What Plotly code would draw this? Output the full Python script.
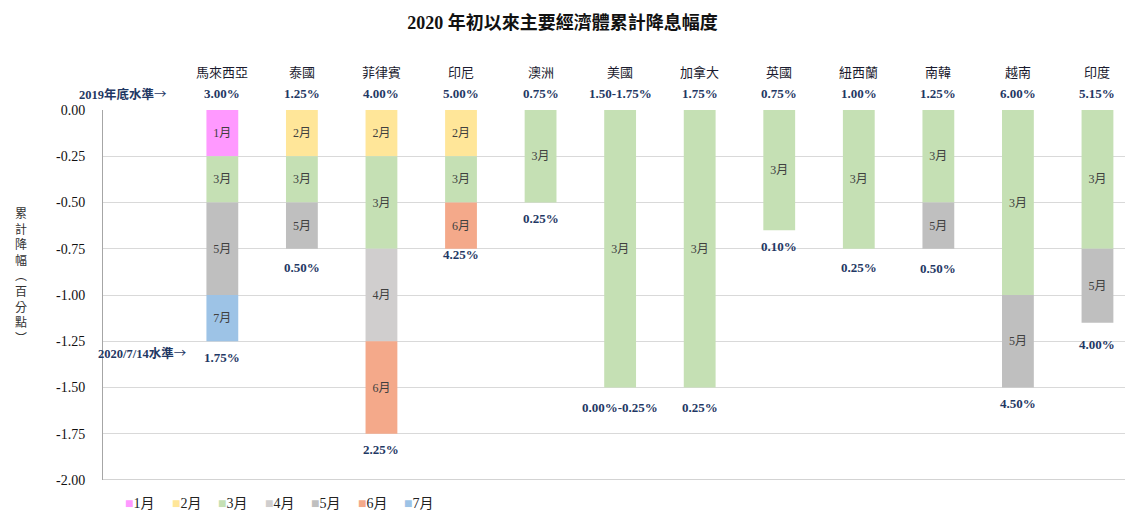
import plotly.graph_objects as go

countries = ["馬來西亞", "泰國", "菲律賓", "印尼", "澳洲", "美國", "加拿大", "英國", "紐西蘭", "南韓", "越南", "印度"]
start_levels = ["3.00%", "1.25%", "4.00%", "5.00%", "0.75%", "1.50-1.75%", "1.75%", "0.75%", "1.00%", "1.25%", "6.00%", "5.15%"]
end_levels = ["1.75%", "0.50%", "2.25%", "4.25%", "0.25%", "0.00%-0.25%", "0.25%", "0.10%", "0.25%", "0.50%", "4.50%", "4.00%"]
months = ["1月", "2月", "3月", "4月", "5月", "6月", "7月"]
# cuts (percentage points) per month, per country
cuts = {
    "1月": [-0.25, 0, 0, 0, 0, 0, 0, 0, 0, 0, 0, 0],
    "2月": [0, -0.25, -0.25, -0.25, 0, 0, 0, 0, 0, 0, 0, 0],
    "3月": [-0.25, -0.25, -0.50, -0.25, -0.50, -1.50, -1.50, -0.65, -0.75, -0.50, -1.00, -0.75],
    "4月": [0, 0, -0.50, 0, 0, 0, 0, 0, 0, 0, 0, 0],
    "5月": [-0.50, -0.25, 0, 0, 0, 0, 0, 0, 0, -0.25, -0.50, -0.40],
    "6月": [0, 0, -0.50, -0.25, 0, 0, 0, 0, 0, 0, 0, 0],
    "7月": [-0.25, 0, 0, 0, 0, 0, 0, 0, 0, 0, 0, 0],
}
month_colors = ["#FF99FF", "#FFE699", "#C5E0B4", "#D0CECE", "#BFBFBF", "#F4A98A", "#9DC3E6"]
y_ticks = [0, -0.25, -0.5, -0.75, -1.0, -1.25, -1.5, -1.75, -2.0]

SERIF = "Liberation Serif, Noto Sans CJK TC"
CJK = "Noto Sans CJK TC"
NAVY = "#1F3864"

xs = list(range(1, len(countries) + 1))
fig = go.Figure()
for m, col in zip(months, month_colors):
    vals = cuts[m]
    fig.add_trace(go.Bar(
        x=xs, y=[v if v != 0 else None for v in vals], name=m,
        marker=dict(color=col, line=dict(width=0)),
        text=[m if v != 0 else "" for v in vals],
        textposition="inside", insidetextanchor="middle",
        textfont=dict(family=SERIF, size=12, color="#404040"),
        width=0.4, hoverinfo="skip", showlegend=False,
    ))

totals = [sum(cuts[m][i] for m in months) for i in range(len(countries))]
shift = {3: -6, 5: -20, 6: -20, 11: -22, 1: -19, 8: -19, 9: -20}

ann = []
plot_l, plot_w = 103, 1022
def px_x(p):
    return (p - plot_l) / plot_w
def px_y(p):
    return (480 - p) / 370

for i, c in enumerate(countries):
    ann.append(dict(x=xs[i], y=px_y(72), xref="x", yref="paper", yanchor="middle", text=c, showarrow=False,
                    font=dict(family=CJK, size=13, color="#1a1a2e")))
    ann.append(dict(x=xs[i], y=px_y(93), xref="x", yref="paper", yanchor="middle",
                    text="<b>%s</b>" % start_levels[i], showarrow=False,
                    font=dict(family=SERIF, size=13, color=NAVY)))
    ann.append(dict(x=xs[i], y=totals[i], xref="x", yref="y", yanchor="middle",
                    text="<b>%s</b>" % end_levels[i], showarrow=False,
                    yshift=shift.get(i, -16), font=dict(family=SERIF, size=13, color=NAVY)))

arrow = '<span style="font-family:Noto Sans CJK TC">→</span>'
ann.append(dict(x=px_x(169), y=px_y(93), xref="paper", yref="paper", xanchor="right", yanchor="middle",
                text="<b>2019年底水準</b>" + arrow,
                showarrow=False, font=dict(family=SERIF, size=12.5, color=NAVY)))
ann.append(dict(x=px_x(189), y=px_y(352), xref="paper", yref="paper", xanchor="right", yanchor="middle",
                text="<b>2020/7/14水準</b>" + arrow,
                showarrow=False, font=dict(family=SERIF, size=12.5, color=NAVY)))
ann.append(dict(x=px_x(21), y=px_y(275), xref="paper", yref="paper", xanchor="center", yanchor="middle",
                text="<br>".join(list("累計降幅︵百分點︶")),
                showarrow=False, font=dict(family=CJK, size=12, color="#333333")))

# legend drawn as text entries (Excel-style compact legend)
leg_x0, leg_dx = 123, 46.5
for k, (m, col) in enumerate(zip(months, month_colors)):
    ann.append(dict(x=px_x(leg_x0 + k * leg_dx), y=px_y(503), xref="paper", yref="paper",
                    xanchor="left", yanchor="middle",
                    text='<span style="color:%s">■</span>%s' % (col, m), showarrow=False,
                    font=dict(family=SERIF, size=14, color="#222222")))

fig.update_layout(
    width=1125, height=512,
    margin=dict(l=plot_l, r=0, t=110, b=32),
    paper_bgcolor="white", plot_bgcolor="white",
    barmode="relative",
    title=dict(text="<b>2020 年初以來主要經濟體累計降息幅度</b>", x=0.5, xanchor="center", y=1 - 23/512, yanchor="middle",
               font=dict(family=SERIF, size=18, color="#111111")),
    xaxis=dict(range=[-0.5, 12.346], showticklabels=False, showgrid=False, zeroline=False,
               showline=False, ticks=""),
    yaxis=dict(range=[-2, 0], tickvals=y_ticks, ticktext=["%.2f" % v for v in y_ticks],
               showgrid=True, gridcolor="#D9D9D9", gridwidth=1, zeroline=False,
               showline=True, linecolor="#A6A6A6", linewidth=1, ticks="", ticklabelstandoff=14,
               tickfont=dict(family=SERIF, size=14, color="#111111")),
    annotations=ann,
    showlegend=False,
)
# bottom axis line
fig.add_shape(type="line", xref="paper", yref="y", x0=0, x1=1, y0=-2, y1=-2, line=dict(color="#A6A6A6", width=1))

fig.write_html("out.html", config={"displayModeBar": False},
               post_script="document.body.style.margin='0';document.body.style.overflow='hidden';")
